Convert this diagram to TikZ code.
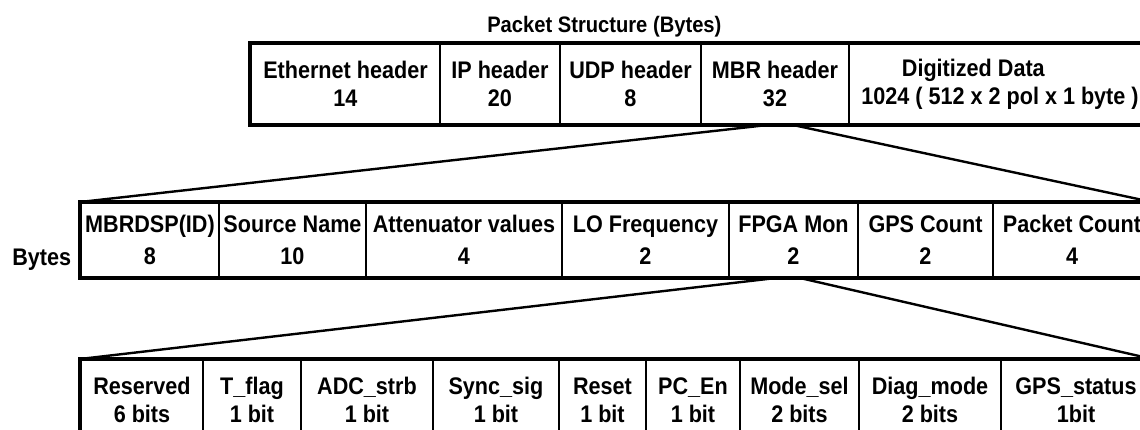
\documentclass[tikz,border=0pt]{standalone}
\usepackage{fontspec}
\setmainfont{Liberation Sans}[FakeStretch=0.9]
\usetikzlibrary{calc}
\tikzset{
  txt/.style={font=\bfseries\fontsize{18pt}{21pt}\selectfont},
  cell/.style={draw, line width=1.5pt, inner sep=0pt, align=center, anchor=north west},
  tallrow/.style={cell, txt, minimum height=60pt},
  midrow/.style={cell, font=\bfseries\fontsize{18pt}{24pt}\selectfont, minimum height=55.5pt},
  frame/.style={draw, line width=2.6pt},
  fan/.style={draw, line width=1.8pt}
}
\begin{document}
\begin{tikzpicture}[x=0.75pt, y=-0.75pt]
\useasboundingbox (0,0) rectangle (1140,429);
\clip (0,0) rectangle (1140,429);

% title
\node[font=\bfseries\fontsize{16.8pt}{18pt}\selectfont, anchor=base west, inner sep=0pt] (title) at (487,32) {Packet Structure (Bytes)};

% top row
\node[tallrow, minimum width=141.75pt] (eth) at (250,43) {Ethernet header\\14};
\node[tallrow, minimum width=90pt]     (ip)  at (439,43) {IP header\\20};
\node[tallrow, minimum width=105.75pt] (udp) at (559,43) {UDP header\\8};
\node[tallrow, minimum width=111pt]    (mbr) at (700,43) {MBR header\\32};
\node[tallrow, minimum width=226.5pt]  (dig) at (848,43) {Digitized Data\makebox[40pt]{}\\1024 ( 512 x 2 pol x 1 byte )};
\draw[frame] (eth.north west) rectangle (dig.south east);

% middle row
\node[txt, anchor=base west, inner sep=0pt] (bytes) at (12,265) {Bytes};
\node[midrow, minimum width=103.5pt]  (mbrdsp) at (80,202)  {MBRDSP(ID)\\8};
\node[midrow, minimum width=110.25pt] (src)    at (218,202) {Source Name\\10};
\node[midrow, minimum width=147pt]    (att)    at (365,202) {Attenuator values\\4};
\node[midrow, minimum width=125.25pt] (lo)     at (561,202) {LO Frequency\\2};
\node[midrow, minimum width=96.75pt]  (fpga)   at (728,202) {FPGA Mon\\2};
\node[midrow, minimum width=101.25pt] (gps)    at (857,202) {GPS Count\\2};
\node[midrow, minimum width=118.5pt]  (pkt)    at (992,202) {Packet Count\\4};
\draw[frame] (mbrdsp.north west) rectangle (pkt.south east);

% bottom row
\node[tallrow, minimum width=91.5pt]  (res)   at (80,359)  {Reserved\\6 bits};
\node[tallrow, minimum width=73.5pt]  (tflag) at (202,359) {T\_flag\\1 bit};
\node[tallrow, minimum width=99pt]    (adc)   at (300,359) {ADC\_strb\\1 bit};
\node[tallrow, minimum width=94.5pt]  (sync)  at (432,359) {Sync\_sig\\1 bit};
\node[tallrow, minimum width=65.25pt] (reset) at (558,359) {Reset\\1 bit};
\node[tallrow, minimum width=70.5pt]  (pcen)  at (645,359) {PC\_En\\1 bit};
\node[tallrow, minimum width=89.25pt] (mode)  at (739,359) {Mode\_sel\\2 bits};
\node[tallrow, minimum width=106.5pt] (diag)  at (858,359) {Diag\_mode\\2 bits};
\node[tallrow, minimum width=112.5pt] (gpss)  at (1000,359) {GPS\_status\\1bit};
\draw[frame] (res.north west) rectangle (gpss.south east);

% fan connectors
\draw[fan] ($(mbr.south west)!0.45!(mbr.south east)$) -- (mbrdsp.north west);
\draw[fan] ($(mbr.south west)!0.62!(mbr.south east)$) -- (pkt.north east);
\draw[fan] ($(fpga.south west)!0.365!(fpga.south east)$) -- (res.north west);
\draw[fan] ($(fpga.south west)!0.55!(fpga.south east)$) -- (gpss.north east);
\end{tikzpicture}
\end{document}
